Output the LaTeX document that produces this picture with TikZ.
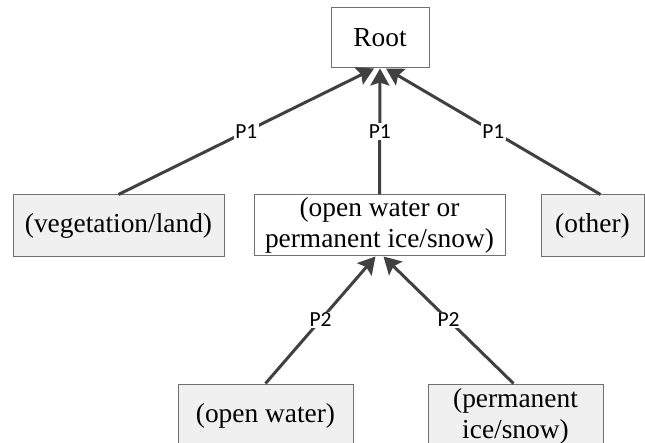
\documentclass[tikz,border=0pt]{standalone}
\usepackage{fontspec}
\setmainfont{Liberation Serif}
\newfontfamily\labelfont{Carlito}
\usetikzlibrary{arrows.meta}
\definecolor{edgegray}{HTML}{404040}
\definecolor{boxline}{HTML}{707070}
\definecolor{boxfill}{HTML}{F0F0F0}
\begin{document}
\begin{tikzpicture}[x=1pt,y=-1pt,
  classbox/.style={draw=boxline,line width=1pt,fill=white,inner sep=0pt,
    align=center,font=\fontsize{27.4}{31}\selectfont},
  leafbox/.style={classbox,fill=boxfill},
  link/.style={draw=edgegray,line width=3pt,
    -{Stealth[length=17pt,width=19pt,inset=3pt]}},
  plabel/.style={fill=white,inner sep=1.5pt,font=\labelfont\fontsize{21.5}{23}\selectfont}]
\useasboundingbox (0,0) rectangle (645,443);
\clip (0,0) rectangle (645,443);
% tree nodes
\node[classbox,minimum width=98pt,minimum height=60pt] (root) at (380,38) {Root};
\node[leafbox,minimum width=211pt,minimum height=62pt] (veg) at (118.5,226) {(vegetation/land)};
\node[classbox,minimum width=251pt,minimum height=61pt] (water) at (379.5,225.5) {(open water or\\permanent ice/snow)};
\node[leafbox,minimum width=103pt,minimum height=62pt] (other) at (592.5,226) {(other)};
\node[leafbox,minimum width=175pt,minimum height=64pt] (open) at (265.5,416) {(open water)};
\node[leafbox,minimum width=175pt,minimum height=64pt] (ice) at (515.5,416) {(permanent\\ice/snow)};
% arrow entry points along the bottom edges
\coordinate (rootl) at ([xshift=-6pt]root.south);
\coordinate (rootm) at (root.south);
\coordinate (rootr) at ([xshift=6pt]root.south);
\coordinate (waterl) at ([xshift=-4pt]water.south);
\coordinate (waterr) at ([xshift=4pt]water.south);
% connectors
\draw[link] (veg.north) -- node[plabel] {P1} (rootl);
\draw[link] (water.north) -- node[plabel] {P1} (rootm);
\draw[link] ([xshift=8pt]other.north) -- node[plabel] {P1} (rootr);
\draw[link] (open.north) -- node[plabel] {P2} (waterl);
\draw[link] ([xshift=-2pt]ice.north) -- node[plabel] {P2} (waterr);
\end{tikzpicture}
\end{document}
